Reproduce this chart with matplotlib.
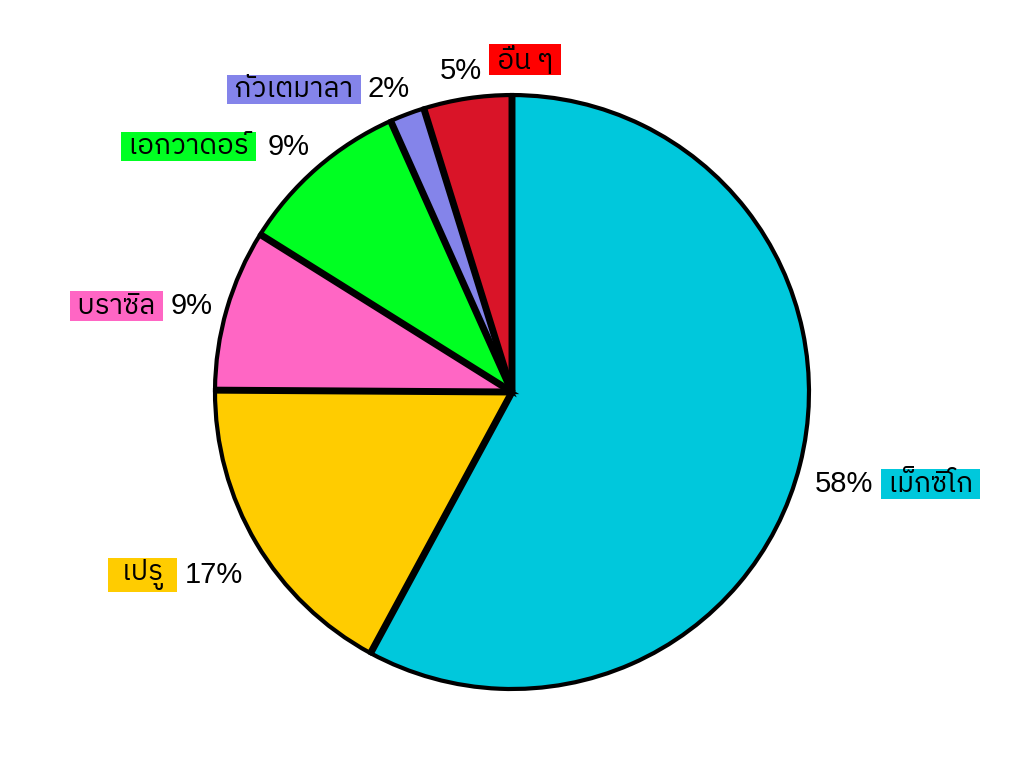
import matplotlib
matplotlib.use('Agg')
import matplotlib.pyplot as plt
import numpy as np
from matplotlib import font_manager
from matplotlib.ft2font import FT2Font

labels = ['เม็กซิโก', 'เปรู', 'บราซิล', 'เอกวาดอร์', 'กัวเตมาลา', 'อื่น ๆ']
values = [57.9, 17.2, 8.8, 9.4, 1.9, 4.8]
pct_labels = ['58%', '17%', '9%', '9%', '2%', '5%']
slice_colors = ['#00c8dc', '#ffcc00', '#ff66c4', '#00ff22', '#8484ea', '#d91428']
box_colors = ['#00c8dc', '#ffcc00', '#ff66c4', '#00ff22', '#8484ea', '#ff0000']

# where the percent text sits: (angle in degrees, radius), its inner edge
label_anchor = [(-16.9, 1.066), (214.2, 1.096), (164.0, 1.05),
                (129.5, 1.07), (108.6, 1.076), (95.3, 1.085)]


# find a font that has Thai glyphs
def find_thai_font():
    found = []
    for f in font_manager.fontManager.ttflist:
        try:
            cmap = FT2Font(f.fname).get_charmap()
        except Exception:
            continue
        if 0x0E01 in cmap and 0x0E47 in cmap:
            found.append(f.name)
    pref = [n for n in found if 'Thai' in n]
    if pref:
        return pref[0]
    return found[0] if found else 'DejaVu Sans'


thai_font = find_thai_font()

fig = plt.figure(figsize=(10.24, 7.68), dpi=100)
ax = fig.add_axes([0, 0, 1, 1])

wedges, _ = ax.pie(values, colors=slice_colors, startangle=90, counterclock=False,
                   wedgeprops=dict(edgecolor='black', linewidth=3))
ax.set_xlim(-1.724, 1.724)
ax.set_ylim(-1.266, 1.320)
ax.set_aspect('auto')
ax.axis('off')

# heavier separators between the slices
for w in wedges:
    t = np.deg2rad(w.theta1)
    ax.plot([0, 0.995 * np.cos(t)], [0, 0.995 * np.sin(t)], color='black', lw=5,
            solid_capstyle='butt', zorder=3)

for i, w in enumerate(wedges):
    a, r = label_anchor[i]
    x, y = r * np.cos(np.deg2rad(a)), r * np.sin(np.deg2rad(a))
    others = i == len(wedges) - 1
    right = x > 0
    pct = ax.text(x, y, pct_labels[i], ha='left' if right else 'right', va='center',
                  fontsize=21, family=['Liberation Sans', 'DejaVu Sans'])
    if others:
        # label goes after the percent, a bit higher
        right = True
    sp = '  ' if len(labels[i]) < 5 else ' '
    dy = 8.5 if others else 0
    gap = 9 if i == 3 else 6
    ax.annotate(sp + labels[i] + sp, xy=(1 if right else 0, 0.5), xycoords=pct,
                xytext=(gap if right else -gap, dy), textcoords='offset points',
                ha='left' if right else 'right', va='center', fontsize=20,
                family=[thai_font, 'DejaVu Sans'],
                bbox=dict(boxstyle='square,pad=0.04', fc=box_colors[i], ec='none'))

fig.savefig('out.png', dpi=100)
